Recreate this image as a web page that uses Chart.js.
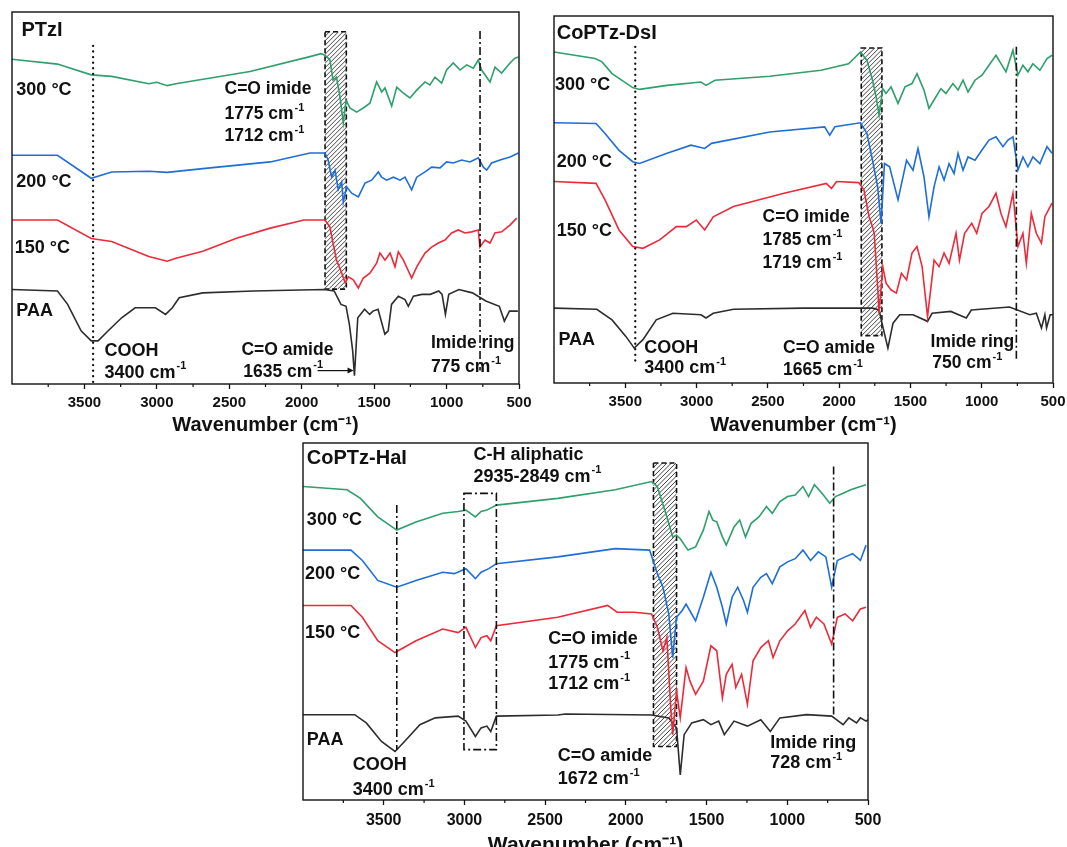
<!DOCTYPE html>
<html><head><meta charset="utf-8">
<script src="https://cdn.jsdelivr.net/npm/chart.js@4.4.1/dist/chart.umd.min.js"></script>
<style>
html,body{margin:0;padding:0;background:#fff;width:1067px;height:847px;overflow:hidden;position:relative;}
.box{position:absolute;}
canvas{display:block;}
</style></head><body>
<div class="box" style="left:0;top:0;"><canvas id="c1" width="540" height="440"></canvas></div>
<div class="box" style="left:540px;top:0;"><canvas id="c2" width="540" height="440"></canvas></div>
<div class="box" style="left:280px;top:440px;"><canvas id="c3" width="620" height="420"></canvas></div>
<script>
// ---------- axis ticks ----------
const majorTicks = [3500, 3000, 2500, 2000, 1500, 1000, 500];
const minorTicks = [3750, 3250, 2750, 2250, 1750, 1250, 750];
const seriesLabels = ['300 °C', '200 °C', '150 °C', 'PAA'];

// ---------- PTzI ----------
const ptziWn300 = [4000,3686,3453,3312,3056,3000,2928,2869,2357,1943,1867,1839,1805,1784,1760,1736,1713,1694,1667,1621,1575,1529,1483,1448,1425,1379,1344,1298,1253,1206,1149,1115,1080,1034,1000,954,907,861,815,781,758,700,666,620,562,528,504];
const ptzi300 = [87.3,86.0,83.1,82.7,80.7,81.1,80.2,80.7,84.0,88.0,88.8,88.4,87.1,81.7,82.5,77.2,70.2,76.3,74.2,73.1,74.2,75.5,81.2,78.5,79.6,74.7,79.8,78.2,76.9,79.0,81.2,80.4,82.5,80.9,84.4,86.3,84.4,85.8,84.9,87.1,84.4,81.2,85.2,83.6,86.3,87.6,87.9];
const ptziWn200 = [4000,3686,3453,3312,3056,2928,2683,2217,1943,1839,1818,1793,1770,1748,1724,1713,1690,1655,1609,1563,1517,1471,1448,1414,1367,1321,1287,1241,1206,1149,1103,1045,1000,954,896,838,781,746,723,689,631,562,504];
const ptzi200 = [61.5,61.5,55.3,57.0,57.2,56.9,57.9,59.7,62.1,62.1,60.2,55.6,57.5,52.2,54.3,48.9,53.0,51.3,50.3,54.0,54.8,57.0,55.6,54.8,55.6,54.8,55.6,52.2,55.6,57.0,58.3,58.1,59.7,59.4,60.2,59.7,60.8,58.3,57.5,59.4,60.2,61.0,62.1];
const ptziWn150 = [4000,3686,3453,3312,3056,2928,2869,2683,2450,2217,1984,1839,1805,1784,1760,1724,1700,1678,1644,1609,1575,1529,1483,1460,1425,1390,1356,1333,1298,1241,1206,1149,1103,1057,1011,965,919,873,827,781,770,735,700,666,620,562,516];
const ptzi150 = [44.1,44.1,39.1,38.3,34.3,33.0,33.8,35.7,39.2,41.9,44.1,44.1,42.2,37.9,33.3,29.8,27.2,28.8,28.0,25.8,28.5,29.8,32.5,35.2,33.3,35.2,31.5,35.5,33.3,28.5,31.5,35.2,36.8,37.9,38.7,40.6,41.4,40.6,40.9,41.4,36.8,38.7,37.9,40.6,40.9,42.7,44.6];
const ptziWnPAA = [4000,3686,3616,3523,3453,3406,3336,3243,3150,3010,2940,2893,2846,2683,2334,1845,1776,1729,1694,1671,1648,1636,1613,1566,1531,1508,1473,1426,1403,1380,1333,1287,1264,1229,1170,1112,1054,1031,1008,985,915,822,729,636,601,566,508];
const ptziPAA = [25.4,25.0,21.4,14.3,11.6,11.6,14.3,17.8,20.5,20.5,18.7,20.5,23.2,24.5,25.0,25.4,25.0,21.4,20.9,16.0,8.9,2.2,17.8,20.1,18.7,19.6,20.1,13.4,14.3,21.4,23.6,22.7,20.9,23.6,24.1,24.1,25.0,24.1,18.7,24.1,25.4,24.5,22.3,20.9,16.9,19.6,19.6];

// ---------- CoPTz-DsI ----------
const dsiWn300 = [4000,3712,3663,3593,3448,3400,3207,2969,2934,2871,2487,2127,1934,1850,1805,1766,1741,1720,1694,1671,1636,1587,1538,1489,1454,1405,1370,1321,1286,1251,1202,1166,1131,1096,1047,998,949,900,865,830,781,746,711,676,641,592,542,507];
const dsi300 = [90.2,88.4,87.5,84.3,80.5,80.0,81.1,82.0,81.1,82.5,83.6,85.2,87.0,90.2,87.9,82.5,78.0,73.0,80.2,78.9,80.7,76.2,80.7,81.6,84.3,79.8,74.8,78.0,80.2,78.9,81.6,79.8,82.5,79.3,82.5,83.9,86.6,89.3,87.0,84.8,90.7,83.9,86.6,84.8,87.0,85.2,88.4,89.3];
const dsiWn200 = [4000,3705,3642,3544,3448,3400,3207,3039,2943,2895,2487,2102,2066,2030,1850,1805,1766,1730,1706,1682,1646,1587,1527,1482,1447,1405,1370,1334,1299,1264,1229,1194,1166,1131,1096,1047,998,949,900,851,816,781,746,711,676,641,592,542,507];
const dsi200 = [70.9,70.7,68.0,63.4,60.3,59.8,62.6,64.8,63.9,65.3,68.4,69.8,67.5,69.8,70.9,68.0,60.7,53.5,43.5,59.8,58.9,49.9,60.7,58.0,63.9,56.2,45.3,53.5,58.9,55.3,59.8,57.1,62.6,58.0,61.6,60.7,63.5,66.2,67.1,64.4,66.2,67.1,58.0,61.6,58.9,61.6,59.8,64.4,62.6];
const dsiWn150 = [4000,3705,3642,3544,3448,3376,3259,3142,3072,3002,2943,2883,2741,2387,2090,2054,2018,1862,1826,1790,1766,1754,1730,1720,1694,1671,1636,1599,1563,1527,1489,1454,1418,1380,1334,1299,1264,1229,1180,1156,1120,1070,1035,998,949,900,865,830,781,746,711,687,652,617,581,557,507];
const dsi150 = [54.9,54.4,49.9,41.7,37.2,36.7,39.0,42.6,42.6,44.4,41.7,45.3,48.1,51.7,54.4,53.0,54.9,54.6,52.6,45.3,42.6,40.8,26.3,19.0,31.7,27.2,25.4,24.5,29.9,28.1,35.4,37.2,31.7,18.1,33.5,31.7,35.4,32.6,40.8,33.5,40.8,43.5,40.8,46.2,48.1,51.7,46.2,42.6,51.7,37.2,40.8,32.6,46.2,40.8,38.1,45.3,49.0];
const dsiWnPAA = [4000,3700,3593,3496,3437,3376,3283,3166,2969,2934,2883,2741,2250,1766,1720,1694,1658,1622,1575,1482,1380,1348,1217,1108,1073,805,663,617,581,557,545,520,500];
const dsiPAA = [20.4,20.1,17.2,12.7,9.5,11.8,17.2,19.0,18.6,17.7,19.0,20.1,20.4,20.4,19.9,15.4,9.5,16.3,18.6,18.6,16.8,19.0,19.5,17.7,19.9,20.7,18.6,19.0,15.0,18.6,15.0,18.6,18.6];

// ---------- CoPTz-HaI ----------
const halWn300 = [4000,3727,3644,3537,3419,3300,3134,3039,2991,2932,2897,2861,2802,2422,2066,1841,1805,1746,1710,1686,1663,1615,1568,1520,1485,1461,1437,1402,1378,1330,1295,1259,1224,1176,1129,1093,1046,998,951,903,868,832,785,737,702,654,607,547,512];
const hal300 = [87.8,86.9,84.5,79.3,75.6,77.9,80.3,80.8,81.2,79.3,80.8,81.2,82.6,84.5,86.9,89.2,87.8,79.3,73.7,74.2,73.2,70.0,70.9,75.6,80.8,78.4,77.9,73.7,71.4,76.5,78.4,73.7,77.5,79.3,82.2,80.3,83.6,85.0,85.4,87.8,85.0,88.3,85.9,83.1,85.0,85.9,86.9,87.8,88.3];
const halWn200 = [4000,3703,3632,3537,3419,3300,3134,3063,2991,2932,2897,2849,2802,2422,2066,1853,1805,1770,1734,1710,1686,1651,1627,1592,1568,1520,1473,1437,1402,1378,1342,1307,1271,1247,1212,1164,1129,1093,1046,998,951,903,856,808,761,725,690,642,595,547,512];
const hal200 = [70.0,70.0,67.1,61.5,59.6,61.5,63.8,63.4,64.8,62.0,63.8,64.8,66.2,68.1,70.4,70.0,63.4,59.6,52.1,39.9,51.2,53.1,54.9,52.1,50.2,56.8,63.8,59.6,54.0,49.3,56.8,59.6,55.9,52.6,59.6,62.4,63.4,60.6,65.3,66.7,67.6,70.0,67.1,69.5,68.1,59.6,67.1,68.1,69.0,67.1,71.4];
const halWn150 = [4000,3703,3632,3537,3430,3300,3134,3039,2991,2932,2897,2861,2837,2802,2422,2113,2054,1947,1841,1805,1770,1746,1722,1710,1686,1663,1627,1603,1568,1520,1473,1437,1402,1378,1342,1319,1283,1247,1212,1164,1117,1088,1046,998,951,891,856,820,773,725,690,642,595,547,512];
const hal150 = [54.5,54.5,51.2,44.6,41.3,44.6,47.9,46.9,48.4,42.7,45.5,46.0,44.6,48.8,51.2,54.5,52.6,52.6,52.1,48.4,41.8,45.5,25.8,18.3,30.5,23.0,37.1,33.3,29.6,33.3,43.2,41.8,28.6,35.2,38.0,31.5,35.2,26.8,39.0,42.7,44.6,39.9,44.6,47.4,49.3,53.1,48.4,51.2,49.3,43.7,51.2,52.1,50.2,53.5,54.0];
const halWnPAA = [4000,3680,3608,3514,3430,3371,3276,3181,3039,2991,2932,2897,2861,2837,2802,2422,2374,1841,1734,1686,1663,1639,1592,1520,1473,1425,1390,1330,1247,1164,1105,1046,880,725,654,619,571,547,512,500];
const halPAA = [23.9,23.9,21.6,16.4,13.6,16.4,21.1,23.0,23.5,22.1,17.8,20.2,20.7,19.2,23.5,23.8,24.1,23.8,23.0,20.2,7.0,18.3,21.6,22.5,21.1,22.1,18.3,22.1,20.7,22.5,19.2,23.0,23.9,23.5,21.1,23.0,21.6,23.0,22.1,22.5];

// ---------- style ----------
const FONT = '"Liberation Sans", Arial, Helvetica, sans-serif';
const COLORS = ['#2f9f6b', '#1f6ed8', '#ec2a3a', '#2d2d2d'];

function pts(wn, t) { return wn.map((w, i) => ({ x: w, y: t[i] })); }

function drawLabel(ctx, str, x, y, size) {
  const sup = '⁻¹';
  ctx.fillStyle = '#111';
  ctx.textAlign = 'left';
  ctx.textBaseline = 'middle';
  ctx.font = 'bold ' + size + 'px ' + FONT;
  if (str.endsWith(sup)) {
    const base = str.slice(0, -sup.length);
    ctx.fillText(base, x, y);
    const w = ctx.measureText(base).width;
    ctx.font = 'bold ' + Math.round(size * 0.6) + 'px ' + FONT;
    ctx.fillText('-1', x + w + 1, y - size * 0.36);
  } else {
    ctx.fillText(str, x, y);
  }
}

function makeDecor(cfg) {
  return {
    id: 'decor',
    beforeDatasetsDraw(chart) {
      const { ctx } = chart; const xs = chart.scales.x, ys = chart.scales.y;
      const h = cfg.hatch;
      const x1 = xs.getPixelForValue(h.wn1), x2 = xs.getPixelForValue(h.wn2);
      const y1 = ys.getPixelForValue(h.top), y2 = ys.getPixelForValue(h.bottom);
      ctx.save();
      ctx.beginPath(); ctx.rect(x1, y1, x2 - x1, y2 - y1); ctx.clip();
      ctx.strokeStyle = '#444'; ctx.lineWidth = 1;
      const hh = y2 - y1;
      for (let s = x1 - hh; s < x2 + 6; s += 4.5) {
        ctx.beginPath(); ctx.moveTo(s, y2); ctx.lineTo(s + hh, y1); ctx.stroke();
      }
      ctx.restore();
      ctx.save();
      ctx.setLineDash([5, 3]); ctx.lineWidth = 1.6; ctx.strokeStyle = '#111';
      ctx.strokeRect(x1, y1, x2 - x1, y2 - y1);
      ctx.restore();
    },
    afterDraw(chart) {
      const { ctx, chartArea: a } = chart; const xs = chart.scales.x, ys = chart.scales.y;
      (cfg.vlines || []).forEach(l => {
        const x = xs.getPixelForValue(l.wn);
        ctx.save();
        ctx.strokeStyle = '#111';
        if (l.style === 'dot') { ctx.setLineDash([0.1, 5.5]); ctx.lineCap = 'round'; ctx.lineWidth = 2.3; }
        else { ctx.setLineDash([8, 3, 2, 3]); ctx.lineWidth = 1.6; }
        ctx.beginPath(); ctx.moveTo(x, ys.getPixelForValue(l.top)); ctx.lineTo(x, ys.getPixelForValue(l.bottom)); ctx.stroke();
        ctx.restore();
      });
      if (cfg.box) {
        const b = cfg.box;
        const x1 = xs.getPixelForValue(b.wn1), x2 = xs.getPixelForValue(b.wn2);
        const y1 = ys.getPixelForValue(b.top), y2 = ys.getPixelForValue(b.bottom);
        ctx.save(); ctx.setLineDash([8, 3, 2, 3]); ctx.lineWidth = 1.6; ctx.strokeStyle = '#111';
        ctx.strokeRect(x1, y1, x2 - x1, y2 - y1); ctx.restore();
      }
      if (cfg.arrow) {
        const r = cfg.arrow;
        const x1 = xs.getPixelForValue(r.from), x2 = xs.getPixelForValue(r.to), y = ys.getPixelForValue(r.y);
        ctx.save(); ctx.strokeStyle = '#111'; ctx.fillStyle = '#111'; ctx.lineWidth = 1.2;
        ctx.beginPath(); ctx.moveTo(x1, y); ctx.lineTo(x2 - 5, y); ctx.stroke();
        ctx.beginPath(); ctx.moveTo(x2, y); ctx.lineTo(x2 - 6, y - 3); ctx.lineTo(x2 - 6, y + 3); ctx.closePath(); ctx.fill();
        ctx.restore();
      }
      cfg.texts.forEach(t => drawLabel(ctx, t[0], xs.getPixelForValue(t[1]), ys.getPixelForValue(t[2]), t[3]));
      ctx.save(); ctx.strokeStyle = '#111'; ctx.lineWidth = 1.4;
      ctx.strokeRect(a.left, a.top, a.right - a.left, a.bottom - a.top);
      ctx.lineWidth = 1.2;
      minorTicks.forEach(v => {
        const x = xs.getPixelForValue(v);
        ctx.beginPath(); ctx.moveTo(x, a.bottom); ctx.lineTo(x, a.bottom + 3); ctx.stroke();
      });
      ctx.restore();
    }
  };
}

function makeChart(id, series, decor, o) {
  const datasets = series.map((s, i) => ({
    label: seriesLabels[i], data: pts(s[0], s[1]),
    borderColor: COLORS[i], backgroundColor: COLORS[i],
    borderWidth: 1.6, pointRadius: 0, tension: 0, fill: false
  }));
  return new Chart(document.getElementById(id), {
    type: 'line',
    data: { datasets },
    options: {
      responsive: false, animation: false, events: [],
      layout: { padding: { left: o.padL, right: o.padR, top: o.padT, bottom: 0 } },
      plugins: { legend: { display: false }, tooltip: { enabled: false } },
      scales: {
        x: {
          type: 'linear', reverse: true, min: 500, max: 4000,
          afterBuildTicks: (s) => { s.ticks = majorTicks.map(v => ({ value: v })); },
          afterFit: (s) => { s.height = o.scaleH; },
          ticks: { autoSkip: false, maxRotation: 0, minRotation: 0, padding: o.tickPad, color: '#111',
                   font: { family: FONT, size: o.tickSize, weight: 'bold' }, callback: (v) => String(v) },
          grid: { display: true, drawOnChartArea: false, drawTicks: true, tickLength: 5, tickColor: '#111', tickWidth: 1.3 },
          border: { display: false },
          title: { display: true, text: 'Wavenumber (cm⁻¹)', color: '#111',
                   font: { family: FONT, size: o.titleSize, weight: 'bold' }, padding: { top: 0, bottom: o.titlePad } }
        },
        y: { type: 'linear', min: 0, max: 100, display: false }
      }
    },
    plugins: [makeDecor(decor)]
  });
}

const A = 17.5, T = 18, N = 20;

makeChart('c1', [[ptziWn300, ptzi300], [ptziWn200, ptzi200], [ptziWn150, ptzi150], [ptziWnPAA, ptziPAA]], {
  hatch: { wn1: 1839, wn2: 1692, top: 94.7, bottom: 25.5 },
  vlines: [{ wn: 3440, top: 90.9, bottom: 0.5, style: 'dot' }, { wn: 769, top: 94.9, bottom: 3.6, style: 'dashdot' }],
  arrow: { from: 1890, to: 1642, y: 3.6 },
  texts: [['PTzI', 3935, 94.9, N], ['300 °C', 3970, 78.9, T], ['200 °C', 3970, 54.4, T], ['150 °C', 3981, 36.5, T], ['PAA', 3970, 19.6, T],
          ['C=O imide', 2533, 79.3, A], ['1775 cm⁻¹', 2533, 72.6, A], ['1712 cm⁻¹', 2533, 66.7, A],
          ['COOH', 3362, 8.8, T], ['3400 cm⁻¹', 3362, 3.0, T],
          ['C=O amide', 2416, 9.2, A], ['1635 cm⁻¹', 2404, 3.3, A],
          ['Imide ring', 1108, 10.9, A], ['775 cm⁻¹', 1108, 4.5, A]]
}, { padL: 12, padR: 21, padT: 12, scaleH: 56, tickPad: 5, tickSize: 15, titleSize: 20, titlePad: 3 });

makeChart('c2', [[dsiWn300, dsi300], [dsiWn200, dsi200], [dsiWn150, dsi150], [dsiWnPAA, dsiPAA]], {
  hatch: { wn1: 1845, wn2: 1700, top: 91.3, bottom: 12.9 },
  vlines: [{ wn: 3430, top: 91.6, bottom: 5.9, style: 'dot' }, { wn: 757, top: 91.6, bottom: 6.3, style: 'dashdot' }],
  texts: [['CoPTz-DsI', 3981, 95.2, N], ['300 °C', 3993, 81.1, T], ['200 °C', 3981, 60.3, T], ['150 °C', 3981, 41.3, T], ['PAA', 3969, 11.8, T],
          ['COOH', 3367, 9.5, T], ['3400 cm⁻¹', 3367, 4.1, T],
          ['C=O imide', 2537, 45.3, A], ['1785 cm⁻¹', 2537, 39.0, A], ['1719 cm⁻¹', 2537, 32.6, A],
          ['C=O amide', 2393, 9.5, A], ['1665 cm⁻¹', 2393, 3.6, A],
          ['Imide ring', 1359, 11.2, A], ['750 cm⁻¹', 1347, 5.3, A]]
}, { padL: 14, padR: 27, padT: 16, scaleH: 57, tickPad: 5, tickSize: 15, titleSize: 20, titlePad: 3 });

makeChart('c3', [[halWn300, hal300], [halWn200, hal200], [halWn150, hal150], [halWnPAA, halPAA]], {
  hatch: { wn1: 1829, wn2: 1686, top: 94.4, bottom: 15.0 },
  vlines: [{ wn: 3419, top: 82.6, bottom: 14.0, style: 'dashdot' }, { wn: 713, top: 93.4, bottom: 23.0, style: 'dashdot' }],
  box: { wn1: 3003, wn2: 2802, top: 85.9, bottom: 14.1 },
  texts: [['CoPTz-HaI', 3976, 95.8, N], ['C-H aliphatic', 2944, 96.7, T], ['2935-2849 cm⁻¹', 2944, 90.6, T],
          ['300 °C', 3976, 78.4, T], ['200 °C', 3988, 63.4, T], ['150 °C', 3988, 46.9, T], ['PAA', 3976, 16.8, T],
          ['COOH', 3692, 9.9, T], ['3400 cm⁻¹', 3692, 2.8, T],
          ['C=O imide', 2481, 45.1, T], ['1775 cm⁻¹', 2481, 38.5, T], ['1712 cm⁻¹', 2481, 32.4, T],
          ['C=O amide', 2422, 12.2, T], ['1672 cm⁻¹', 2422, 5.8, T],
          ['Imide ring', 1105, 16.0, T], ['728 cm⁻¹', 1105, 10.3, T]]
}, { padL: 23, padR: 32, padT: 3, scaleH: 60, tickPad: 6, tickSize: 16, titleSize: 21, titlePad: 2 });
</script>
</body></html>
